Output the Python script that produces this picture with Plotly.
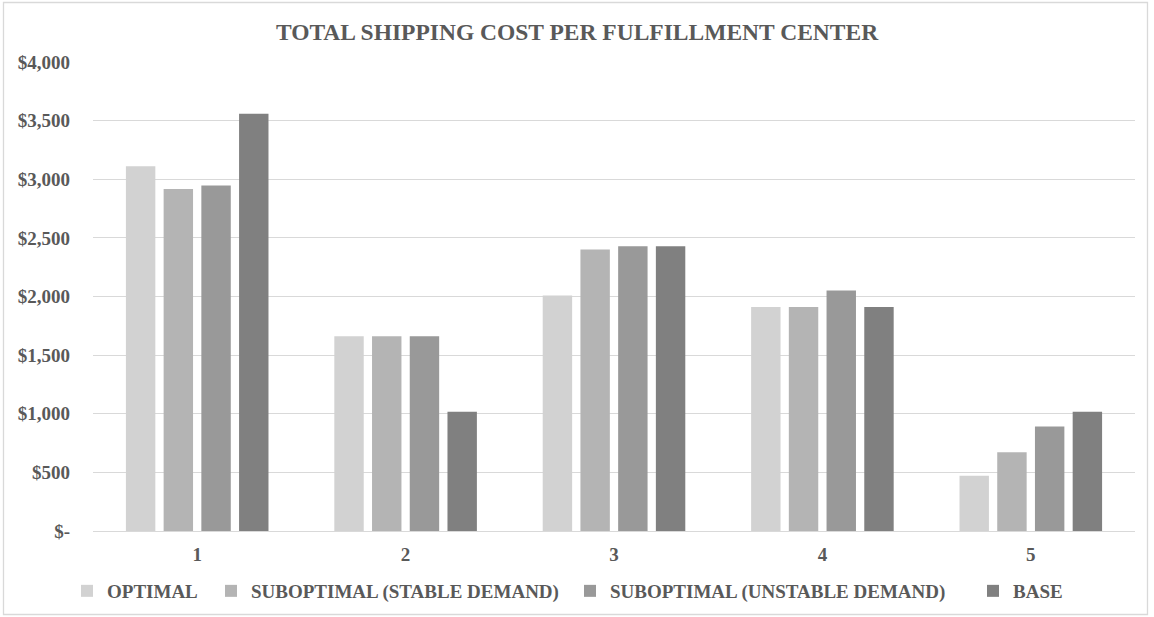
import plotly.graph_objects as go

# Fulfillment centers on the x axis
centers = ["1", "2", "3", "4", "5"]

# Total shipping cost per scenario, in dollars
optimal = [3110, 1662, 2008, 1911, 471]
suboptimal_stable = [2917, 1662, 2400, 1911, 671]
suboptimal_unstable = [2946, 1662, 2429, 2051, 892]
base = [3559, 1017, 2429, 1911, 1017]

# Y axis ticks in accounting style
y_tickvals = [0, 500, 1000, 1500, 2000, 2500, 3000, 3500, 4000]
y_ticktext = ["$-", "$500", "$1,000", "$1,500", "$2,000", "$2,500", "$3,000", "$3,500", "$4,000"]

series = [
    ("OPTIMAL", optimal, "#D2D2D2"),
    ("SUBOPTIMAL (STABLE DEMAND)", suboptimal_stable, "#B4B4B4"),
    ("SUBOPTIMAL (UNSTABLE DEMAND)", suboptimal_unstable, "#999999"),
    ("BASE", base, "#808080"),
]

FONT = "Liberation Serif, Times New Roman, serif"
TEXT = "#595959"

W, H = 1154, 617
L, R, T, B = 93, 19, 62, 86
pw, ph = W - L - R, H - T - B

# left edge (px) of each legend entry's label text
legend_text_px = [107, 251, 610, 1013]
legend_names = ["legend", "legend2", "legend3", "legend4"]

fig = go.Figure()
for (name, vals, color), lg in zip(series, legend_names):
    fig.add_trace(go.Bar(
        x=centers, y=vals, name=name, legend=lg, showlegend=True,
        marker=dict(color=color, line=dict(width=0)),
    ))

legend_font = dict(family=FONT, color=TEXT, size=19, weight="bold")
legend_layout = {}
for lg, tx in zip(legend_names, legend_text_px):
    legend_layout[lg] = dict(
        orientation="h", xref="container", yref="container",
        x=(tx - 40) / W, xanchor="left",
        y=1 - 591 / H, yanchor="middle",
        font=legend_font, itemclick=False, itemdoubleclick=False,
        bgcolor="rgba(0,0,0,0)", visible=True,
    )

fig.update_layout(
    width=W, height=H,
    showlegend=True,
    margin=dict(l=L, r=R, t=T, b=B, autoexpand=False),
    paper_bgcolor="white", plot_bgcolor="white",
    barmode="group", bargap=0.276, bargroupgap=0.22,
    font=dict(family=FONT, color=TEXT, size=19),
    title=dict(
        text="<b>TOTAL SHIPPING COST PER FULFILLMENT CENTER</b>",
        x=0.5, xanchor="center", y=1 - 32 / H, yanchor="middle",
        font=dict(family=FONT, color=TEXT, size=23.5),
    ),
    xaxis=dict(
        showgrid=False, showline=False, ticks="",
        tickfont=dict(family=FONT, color=TEXT, size=19, weight="bold"),
        ticklabelstandoff=10,
    ),
    yaxis=dict(
        range=[0, 4000], tickvals=y_tickvals, ticktext=y_ticktext,
        showgrid=True, gridcolor="#D9D9D9", gridwidth=1.3,
        zeroline=True, zerolinecolor="#D9D9D9", zerolinewidth=1.3,
        showline=False, ticks="",
        tickfont=dict(family=FONT, color=TEXT, size=19, weight="bold"),
        ticklabelstandoff=22,
    ),
    shapes=[dict(
        type="rect", xref="paper", yref="paper",
        x0=(3.5 - L) / pw, x1=(1147.5 - L) / pw,
        y0=-(614.5 - (H - B)) / ph, y1=1 + (T - 2.5) / ph,
        line=dict(color="#D9D9D9", width=1.3), fillcolor="rgba(0,0,0,0)",
        layer="below",
    )],
    **legend_layout,
)

fig.write_html("out.html")
